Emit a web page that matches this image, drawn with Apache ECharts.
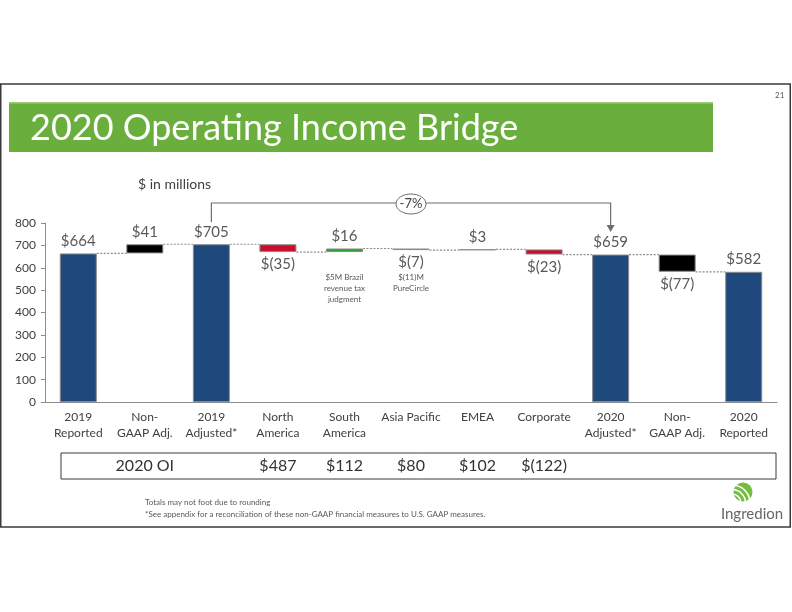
<!DOCTYPE html>
<html><head><meta charset="utf-8">
<script src="https://cdn.jsdelivr.net/npm/echarts@6/dist/echarts.min.js"></script>
<style>html,body{margin:0;padding:0;background:#fff}#c{width:792px;height:612px}</style>
</head><body><div id="c"></div>
<script>
const categories = ['2019\nReported','Non-\nGAAP Adj.','2019\nAdjusted*','North\nAmerica','South\nAmerica','Asia Pacific','EMEA','Corporate','2020\nAdjusted*','Non-\nGAAP Adj.','2020\nReported'];
const values = [664, 41, 705, -35, 16, -7, 3, -23, 659, -77, 582];
const isTotal = [true, false, true, false, false, false, false, false, true, false, true];
const valueLabels = ['$664','$41','$705','$(35)','$16','$(7)','$3','$(23)','$659','$(77)','$582'];
const yTicks = [0,100,200,300,400,500,600,700,800];
const noteCats = [4, 5];
const noteTexts = ['$5M Brazil\nrevenue tax\njudgment', '$(11)M\nPureCircle'];
const oiLabel = '2020 OI';
const oiCats = [3, 4, 5, 6, 7];
const oiValues = ['$487','$112','$80','$102','$(122)'];
const bracketFrom = 2, bracketTo = 8, bracketText = '-7%';

const barColors = ['#1f497d','#000000','#1f497d','#c8102e','#2e9a3a','#8c5a67','#808080','#c8102e','#1f497d','#000000','#1f497d'];
const FONT = 'Lato, "Open Sans", sans-serif';

// waterfall computation
const base = [], height = [], ends = [];
let run = 0;
values.forEach((v, i) => {
  if (isTotal[i]) { base.push(0); height.push(v); run = v; }
  else { const s = run, e = run + v; base.push(Math.min(s, e)); height.push(Math.abs(v)); run = e; }
  ends.push(run);
});
const connectors = ends.slice(0, -1).map((lv, i) => [i, lv]);

const chart = echarts.init(document.getElementById('c'));
const option = {
  animation: false,
  textStyle: { fontFamily: FONT },
  grid: { left: 45, right: 15, top: 223, bottom: 210 },
  xAxis: {
    type: 'category', data: categories,
    axisLine: { lineStyle: { color: '#8c8c8c', width: 1 } },
    axisTick: { show: false },
    axisLabel: { color: '#404040', fontSize: 12, fontFamily: FONT, margin: 7, lineHeight: 16, interval: 0 }
  },
  yAxis: {
    type: 'value', min: 0, max: 800, interval: 100,
    splitLine: { show: false },
    axisLine: { show: true, lineStyle: { color: '#8c8c8c' } },
    axisTick: { show: true, length: 4, lineStyle: { color: '#8c8c8c' } },
    axisLabel: { color: '#404040', fontSize: 12, fontFamily: FONT, margin: 9,
      formatter: v => yTicks.includes(v) ? String(v) : '' }
  },
  series: [
    { type: 'bar', stack: 'w', barWidth: 37, data: base, itemStyle: { color: 'transparent' }, silent: true },
    { type: 'bar', stack: 'w', barWidth: 37,
      data: height.map((h, i) => ({
        value: h,
        itemStyle: { color: barColors[i], borderColor: '#8a8a8a', borderWidth: 1 },
        label: { show: true, position: (isTotal[i] || values[i] >= 0) ? 'top' : 'bottom',
          formatter: valueLabels[i], color: '#595959', fontSize: 15, fontFamily: FONT, distance: 5 }
      }))
    },
    { type: 'custom', data: connectors, z: 1,
      renderItem: (params, api) => {
        const i = api.value(0), lv = api.value(1);
        const p1 = api.coord([i, lv]), p2 = api.coord([i + 1, lv]);
        const half = 18.5;
        return { type: 'line', shape: { x1: p1[0] + half, y1: p1[1], x2: p2[0] - half, y2: p2[1] },
          style: { stroke: '#8c8c8c', lineWidth: 1.2, lineDash: [2, 1.5] } };
      }
    }
  ]
};
chart.setOption(option);

function px(cat, val) { return chart.convertToPixel({ xAxisIndex: 0, yAxisIndex: 0 }, [cat, val]); }

const g = [];
// slide frame
g.push({ type: 'rect', shape: { x: 0.75, y: 84, width: 789.5, height: 443 }, style: { fill: 'none', stroke: '#3a3a3a', lineWidth: 1.5 }, z: 0 });
// banner
g.push({ type: 'rect', shape: { x: 9, y: 102, width: 704, height: 50 }, style: { fill: '#6aaf3e' } });
g.push({ type: 'rect', shape: { x: 9, y: 102, width: 704, height: 1.5 }, style: { fill: '#9ccc7a' } });
g.push({ type: 'text', x: 30, y: 128, style: { text: '2020 Operating Income Bridge', fill: '#ffffff', font: '36px ' + FONT,
  textVerticalAlign: 'middle', shadowColor: 'rgba(0,0,0,0.55)', shadowBlur: 2, shadowOffsetX: 1.5, shadowOffsetY: 1.5 } });
g.push({ type: 'text', x: 775, y: 95, style: { text: '21', fill: '#555', font: '8px ' + FONT, textVerticalAlign: 'middle' } });
g.push({ type: 'text', x: 138, y: 184, style: { text: '$ in millions', fill: '#404040', font: '14px ' + FONT, textVerticalAlign: 'middle' } });

// bracket
const a = px(bracketFrom, 800), b = px(bracketTo, 800);
const topY = a[1] - 20, leftStart = a[1] - 1, arrowEnd = b[1] + 9;
g.push({ type: 'polyline', shape: { points: [[a[0], leftStart], [a[0], topY], [b[0], topY], [b[0], arrowEnd - 6]] },
  style: { stroke: '#6e6e6e', lineWidth: 1.2, fill: 'none' } });
g.push({ type: 'polygon', shape: { points: [[b[0] - 4, arrowEnd - 7], [b[0] + 4, arrowEnd - 7], [b[0], arrowEnd]] }, style: { fill: '#6e6e6e' } });
const midX = (a[0] + b[0]) / 2;
g.push({ type: 'ellipse', shape: { cx: midX, cy: topY + 1, rx: 15, ry: 10 }, style: { fill: '#fff', stroke: '#6e6e6e', lineWidth: 1 } });
g.push({ type: 'text', x: midX, y: topY + 1, style: { text: bracketText, fill: '#404040', font: '13px ' + FONT, textAlign: 'center', textVerticalAlign: 'middle' } });

// notes
noteCats.forEach((c, k) => {
  const p = px(c, 0);
  g.push({ type: 'text', x: p[0], y: 272, style: { text: noteTexts[k], fill: '#595959', font: '8px ' + FONT, textAlign: 'center', lineHeight: 11 } });
});

// OI table
g.push({ type: 'rect', shape: { x: 61, y: 453, width: 715, height: 26 }, style: { fill: 'none', stroke: '#3a3a3a', lineWidth: 1 } });
g.push({ type: 'text', x: px(1, 0)[0], y: 466, style: { text: oiLabel, fill: '#333', font: '16px ' + FONT, textAlign: 'center', textVerticalAlign: 'middle' } });
oiCats.forEach((c, k) => {
  g.push({ type: 'text', x: px(c, 0)[0], y: 466, style: { text: oiValues[k], fill: '#333', font: '16px ' + FONT, textAlign: 'center', textVerticalAlign: 'middle' } });
});

// footer
g.push({ type: 'text', x: 145, y: 502, style: { text: 'Totals may not foot due to rounding', fill: '#595959', font: '8px ' + FONT, textVerticalAlign: 'middle' } });
g.push({ type: 'text', x: 145, y: 514, style: { text: '*See appendix for a reconciliation of these non-GAAP financial measures to U.S. GAAP measures.', fill: '#595959', font: '8px ' + FONT, textVerticalAlign: 'middle' } });

// logo
const lx = 743, ly = 492;
g.push({ type: 'circle', shape: { cx: lx, cy: ly, r: 9.5 }, style: { fill: '#74bd3f' } });
g.push({ type: 'arc', shape: { cx: lx - 11, cy: ly + 11, r: 9, startAngle: -Math.PI / 2, endAngle: 0 }, style: { stroke: '#fff', lineWidth: 1.6, fill: 'none' } });
g.push({ type: 'arc', shape: { cx: lx - 11, cy: ly + 11, r: 13.5, startAngle: -Math.PI / 2, endAngle: 0 }, style: { stroke: '#fff', lineWidth: 1.6, fill: 'none' } });
g.push({ type: 'arc', shape: { cx: lx - 11, cy: ly + 11, r: 18, startAngle: -Math.PI / 2, endAngle: 0 }, style: { stroke: '#fff', lineWidth: 1.6, fill: 'none' } });
g.push({ type: 'text', x: 752, y: 514, style: { text: 'Ingredion', fill: '#666', font: '15px ' + FONT, textAlign: 'center', textVerticalAlign: 'middle' } });

chart.setOption({ graphic: { elements: g } });
</script></body></html>
